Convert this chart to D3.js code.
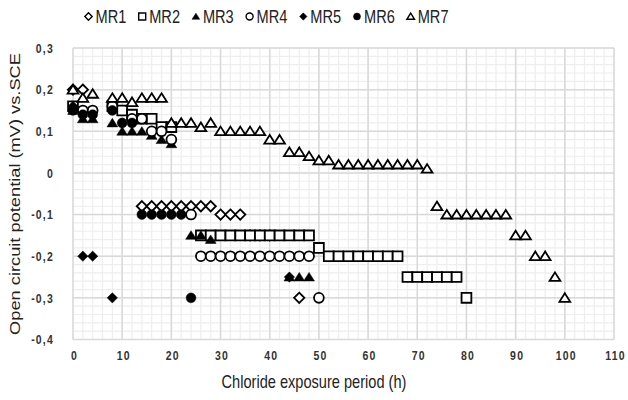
<!DOCTYPE html>
<html><head><meta charset="utf-8">
<script src="https://cdn.jsdelivr.net/npm/d3@7"></script>
<style>body{margin:0;background:#fff}svg{display:block}</style>
</head><body><svg id="c" width="628" height="400"></svg>
<script>
const seriesNames = ["MR1","MR2","MR3","MR4","MR5","MR6","MR7"];
const seriesShapes = ["diamond","square","triangle","circle","diamond","circle","triangle"];
const seriesFilled = [false,false,true,false,true,true,false];

const mr1 = [[0,0.2],[2,0.2],[14,-0.08],[16,-0.08],[18,-0.08],[20,-0.08],[22,-0.08],[24,-0.08],[26,-0.08],[28,-0.08],
  [30,-0.1],[32,-0.1],[34,-0.1],[36,-0.15],[38,-0.15],[40,-0.15],[46,-0.3]];
const mr2 = [[0,0.16],[8,0.16],[10,0.15],[12,0.14],[14,0.13],[16,0.13],[18,0.11],[20,0.11],
  [26,-0.15],[28,-0.15],[30,-0.15],[32,-0.15],[34,-0.15],[36,-0.15],[38,-0.15],[40,-0.15],[42,-0.15],[44,-0.15],[46,-0.15],[48,-0.15],
  [50,-0.18],[52,-0.2],[54,-0.2],[56,-0.2],[58,-0.2],[60,-0.2],[62,-0.2],[64,-0.2],[66,-0.2],
  [68,-0.25],[70,-0.25],[72,-0.25],[74,-0.25],[76,-0.25],[78,-0.25],[80,-0.3]];
const mr3 = [[0,0.15],[2,0.13],[4,0.13],[8,0.12],[10,0.10],[12,0.10],[14,0.10],[16,0.09],[18,0.08],[20,0.07],
  [24,-0.15],[26,-0.15],[28,-0.16],[44,-0.25],[46,-0.25],[48,-0.25]];
const mr4 = [[2,0.15],[4,0.15],[8,0.16],[12,0.13],[14,0.13],[16,0.10],[18,0.10],[20,0.08],[24,-0.1],
  [26,-0.2],[28,-0.2],[30,-0.2],[32,-0.2],[34,-0.2],[36,-0.2],[38,-0.2],[40,-0.2],[42,-0.2],[44,-0.2],[46,-0.2],[48,-0.2],[50,-0.3]];
const mr5 = [[0,0.16],[2,-0.2],[4,-0.2],[8,-0.3],[44,-0.25]];
const mr6 = [[0,0.15],[2,0.14],[4,0.14],[8,0.15],[10,0.12],[12,0.12],
  [14,-0.1],[16,-0.1],[18,-0.1],[20,-0.1],[22,-0.1],[24,-0.3]];
const mr7 = [[0,0.2],[2,0.18],[4,0.19],[8,0.18],[10,0.18],[12,0.17],[14,0.18],[16,0.18],[18,0.18],
  [20,0.12],[22,0.12],[24,0.12],[26,0.11],[28,0.12],[30,0.1],[32,0.1],[34,0.1],[36,0.1],[38,0.1],
  [40,0.08],[42,0.08],[44,0.05],[46,0.05],[48,0.04],[50,0.03],[52,0.03],
  [54,0.02],[56,0.02],[58,0.02],[60,0.02],[62,0.02],[64,0.02],[66,0.02],[68,0.02],[70,0.02],[72,0.01],
  [74,-0.08],[76,-0.1],[78,-0.1],[80,-0.1],[82,-0.1],[84,-0.1],[86,-0.1],[88,-0.1],
  [90,-0.15],[92,-0.15],[94,-0.2],[96,-0.2],[98,-0.25],[100,-0.3]];
const seriesData = [mr1,mr2,mr3,mr4,mr5,mr6,mr7];

const xTicks = [0,10,20,30,40,50,60,70,80,90,100,110];
const yTicks = [-0.4,-0.3,-0.2,-0.1,0,0.1,0.2,0.3];
const xTitle = "Chloride exposure period (h)";
const yTitle = "Open circuit potential (mV) vs.SCE";

const FONT = "'Liberation Sans',Arial,sans-serif";
const svg = d3.select("#c");
const x = d3.scaleLinear().domain([0,110]).range([73,614]);
const y = d3.scaleLinear().domain([-0.4,0.3]).range([339.5,48]);

// grid
const grid = svg.append("g");
const xMinor = d3.range(0,110.001,2), yMinor = d3.range(-0.4,0.3001,0.02);
grid.selectAll(".vx").data(xMinor).join("line")
  .attr("x1",d=>x(d)).attr("x2",d=>x(d)).attr("y1",y(0.3)).attr("y2",y(-0.4))
  .attr("stroke","#eeeeee").attr("stroke-width",1.2);
grid.selectAll(".hy").data(yMinor).join("line")
  .attr("y1",d=>y(d)).attr("y2",d=>y(d)).attr("x1",x(0)).attr("x2",x(110))
  .attr("stroke","#eeeeee").attr("stroke-width",1.2);
grid.selectAll(".VX").data(xTicks).join("line")
  .attr("x1",d=>x(d)).attr("x2",d=>x(d)).attr("y1",y(0.3)).attr("y2",y(-0.4))
  .attr("stroke","#d9d9d9").attr("stroke-width",1.5);
grid.selectAll(".HY").data(yTicks).join("line")
  .attr("y1",d=>y(d)).attr("y2",d=>y(d)).attr("x1",x(0)).attr("x2",x(110))
  .attr("stroke","#d9d9d9").attr("stroke-width",1.5);

// axes
const fmtY = d => d===0 ? "0" : d3.format(".1f")(d).replace(".",",").replace("−","-");
const ax = svg.append("g").attr("transform",`translate(0,${y(-0.4)})`)
  .call(d3.axisBottom(x).tickValues(xTicks).tickSize(0).tickPadding(0).tickFormat(d3.format("d")));
const ay = svg.append("g").attr("transform",`translate(${x(0)},0)`)
  .call(d3.axisLeft(y).tickValues(yTicks).tickSize(0).tickPadding(0).tickFormat(fmtY));
ax.select(".domain").remove(); ay.select(".domain").remove();
ax.selectAll(".tick text").attr("y",0).attr("dy",0)
  .attr("transform","translate(1,20.5) scale(1,1.2)");
ay.selectAll(".tick text").attr("x",0).attr("dy",0)
  .attr("transform","translate(-19,4.3) scale(1,1.2)");
[ax,ay].forEach(a=>{
  a.selectAll("text").attr("font-family",FONT)
   .attr("font-size",10.5).attr("font-weight","bold").attr("fill","#333").style("letter-spacing","1.2px");
});

// titles
svg.append("text").attr("text-anchor","middle")
  .attr("font-family",FONT).attr("font-size",14.6)
  .attr("transform","translate(314,388) scale(1,1.25)")
  .attr("fill","#222").text(xTitle);
svg.append("text").attr("text-anchor","middle")
  .attr("font-family",FONT).attr("font-size",14.6)
  .attr("transform","translate(20,194) rotate(-90) scale(1.25,1)")
  .attr("fill","#222").text(yTitle);

// marker paths
function shapePath(shape, s){
  const h = s/2;
  if(shape==="square") return `M${-h},${-h}H${h}V${h}H${-h}Z`;
  if(shape==="diamond") return `M0,${-h*1.05}L${h*1.05},0L0,${h*1.05}L${-h*1.05},0Z`;
  if(shape==="triangle") return `M0,${-h*0.95}L${h*1.1},${h*0.8}L${-h*1.1},${h*0.8}Z`;
  return d3.arc()({innerRadius:0,outerRadius:h,startAngle:0,endAngle:2*Math.PI});
}

// series
seriesData.forEach((data,i)=>{
  const filled = seriesFilled[i];
  svg.append("g").selectAll("path").data(data).join("path")
    .attr("transform",d=>`translate(${x(d[0])},${y(d[1])})`)
    .attr("d",shapePath(seriesShapes[i], 9.8))
    .attr("fill",filled?"#000":"#fff")
    .attr("stroke","#000").attr("stroke-width",filled?0.5:1.8)
    .attr("stroke-linejoin","miter");
});

// legend
const leg = svg.append("g");
seriesNames.forEach((n,i)=>{
  const cx = 88.5 + i*53.7;
  leg.append("path").attr("transform",`translate(${cx},16.5)`)
    .attr("d",shapePath(seriesShapes[i],7))
    .attr("fill",seriesFilled[i]?"#000":"#fff").attr("stroke","#000")
    .attr("stroke-width",seriesFilled[i]?0.5:1.4);
  leg.append("text").attr("transform",`translate(${cx+7},23) scale(1,1.27)`)
    .attr("font-family",FONT)
    .attr("font-size",14.6).attr("fill","#222").text(n);
});
</script></body></html>
